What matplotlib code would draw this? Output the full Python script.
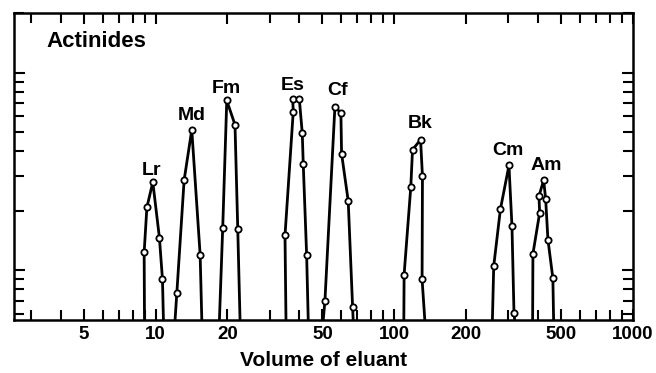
import matplotlib.pyplot as plt
from matplotlib.ticker import FixedLocator, LogLocator, NullFormatter

# elution peaks: (volume of eluant, relative activity)
base = 0.56

lr_x = [8.98, 8.95, 9.19, 9.73, 10.37, 10.68, 10.78]
lr_y = [base, 1.23, 2.08, 2.79, 1.46, 0.90, base]

md_x = [12.06, 12.27, 13.16, 14.17, 15.36, 15.61]
md_y = [base, 0.77, 2.85, 5.13, 1.20, base]

fm_x = [18.5, 19.1, 19.86, 21.5, 22.08, 22.57]
fm_y = [base, 1.64, 7.22, 5.44, 1.62, base]

es_x = [35.16, 34.83, 37.72, 37.51, 39.98, 41.14, 41.53, 42.91, 43.58]
es_y = [base, 1.50, 6.35, 7.37, 7.37, 4.94, 3.46, 1.20, base]

cf_x = [50.37, 51.2, 56.36, 59.72, 60.12, 64.09, 66.86, 67.24]
cf_y = [base, 0.70, 6.68, 6.26, 3.89, 2.24, 0.653, base]

bk_x = [109.6, 109.9, 117.2, 119.2, 128.8, 131.2, 130.7, 134.2]
bk_y = [base, 0.95, 2.63, 4.07, 4.57, 2.98, 0.90, base]

cm_x = [257.6, 260.9, 278.2, 302.2, 311.1, 317.2, 319.3]
cm_y = [base, 1.05, 2.03, 3.39, 1.67, 0.61, base]

am_x = [379.7, 380.8, 406.3, 403.6, 422.3, 430.5, 440.1, 461.6, 464.9]
am_y = [base, 1.21, 1.95, 2.37, 2.85, 2.30, 1.43, 0.91, base]

peaks = [(lr_x, lr_y), (md_x, md_y), (fm_x, fm_y), (es_x, es_y),
         (cf_x, cf_y), (bk_x, bk_y), (cm_x, cm_y), (am_x, am_y)]

names = ['Lr', 'Md', 'Fm', 'Es', 'Cf', 'Bk', 'Cm', 'Am']
label_x = [9.64, 14.17, 19.86, 37.6, 58.0, 127.9, 298.5, 433.5]
label_y = [3.2, 6.06, 8.3, 8.6, 8.1, 5.5, 4.04, 3.39]

xticks = [5, 10, 20, 50, 100, 200, 500, 1000]
xtick_labels = ['5', '10', '20', '50', '100', '200', '500', '1000']

plt.rcParams['font.family'] = ['Liberation Sans', 'DejaVu Sans']

fig = plt.figure(figsize=(6.56, 3.73), dpi=100)
ax = fig.add_axes([14 / 656, 1 - 320 / 373, 619 / 656, 307 / 373])

for px, py in peaks:
    # line and circles separately so the baseline ends carry no marker
    ax.plot(px, py, color='black', lw=2.0, solid_joinstyle='miter')
    ax.plot(px[1:-1], py[1:-1], 'o', ms=4.5, mfc='white', mec='black', mew=1.3)

for name, tx, ty in zip(names, label_x, label_y):
    ax.text(tx, ty, name, ha='center', va='center', fontsize=14,
            fontweight='bold')

ax.text(0.053, 0.906, 'Actinides', transform=ax.transAxes, ha='left',
        va='center', fontsize=16, fontweight='bold')

ax.set_xscale('log')
ax.set_yscale('log')
ax.set_xlim(2.55, 1000)
ax.set_ylim(base, 20)

ax.xaxis.set_major_locator(FixedLocator(xticks))
ax.set_xticklabels(xtick_labels)
ax.xaxis.set_minor_locator(LogLocator(base=10, subs=(3, 4, 6, 7, 8, 9), numticks=20))
ax.xaxis.set_minor_formatter(NullFormatter())
ax.yaxis.set_major_locator(LogLocator(base=10, numticks=10))
ax.yaxis.set_minor_locator(LogLocator(base=10, subs=range(2, 10), numticks=20))
ax.yaxis.set_major_formatter(NullFormatter())
ax.yaxis.set_minor_formatter(NullFormatter())

ax.tick_params(which='both', direction='in', top=True, right=True,
               width=1.5, color='black')
ax.tick_params(which='major', length=8)
ax.tick_params(which='minor', length=7)
ax.tick_params(axis='x', labelsize=13.5, pad=4)
for lab in ax.get_xticklabels():
    lab.set_fontweight('bold')

for s in ax.spines.values():
    s.set_linewidth(1.8)

ax.set_xlabel('Volume of eluant', fontsize=15, fontweight='bold', labelpad=6)

fig.savefig('out.png', dpi=100, facecolor='white')
